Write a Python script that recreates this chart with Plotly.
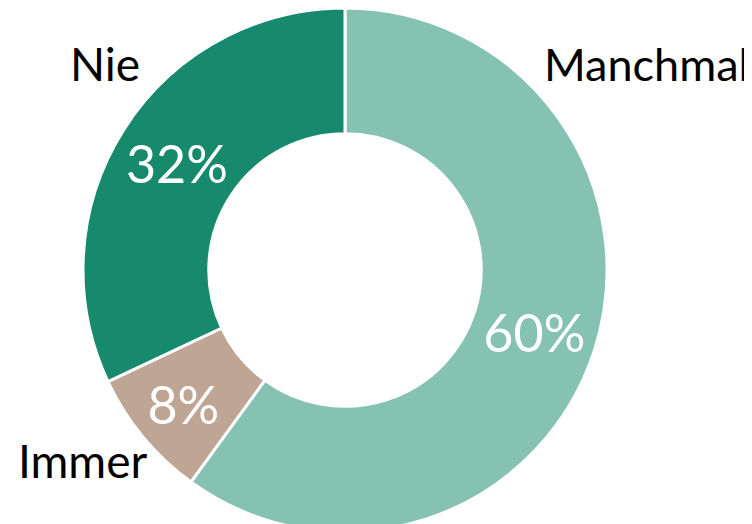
import plotly.graph_objects as go

labels = ["Manchmal", "Immer", "Nie"]
values = [60, 8, 32]
colors = ["#86C2B2", "#BFA594", "#178A6D"]

fig = go.Figure(go.Pie(
    labels=labels,
    values=values,
    hole=0.52,
    sort=False,
    direction="clockwise",
    rotation=0,
    marker=dict(colors=colors, line=dict(color="white", width=3)),
    textinfo="percent",
    texttemplate="%{percent:.0%}",
    textposition="inside",
    insidetextorientation="horizontal",
    insidetextfont=dict(color="white", size=52, family="Lato"),
    domain=dict(x=[(337-262)/752, (337+262)/752], y=[0, 1]),
    showlegend=False,
    hoverinfo="label+percent",
))

label_pos = {"Manchmal": (638, 56, 45), "Nie": (97, 56, 46), "Immer": (74, 452, 46)}
for lab in labels:
    px, py, fs = label_pos[lab]
    fig.add_annotation(x=px/752, y=1-py/524, xref="paper", yref="paper",
                       text=lab, showarrow=False,
                       font=dict(size=fs, color="black", family="Lato"),
                       xanchor="center", yanchor="middle")

fig.update_layout(width=752, height=524, margin=dict(l=0, r=0, t=0, b=0),
                  paper_bgcolor="white", plot_bgcolor="white")
fig.write_html("out.html")
